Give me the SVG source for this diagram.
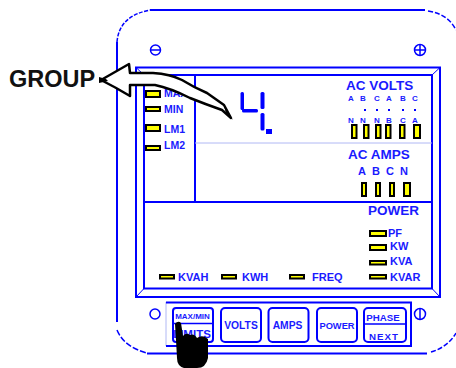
<svg xmlns="http://www.w3.org/2000/svg" width="456" height="368" viewBox="0 0 456 368">
<style>
.b{fill:none;stroke:#0000ff;stroke-width:2}
.t{fill:none;stroke:#0000ff;stroke-width:1.5}
.th{fill:none;stroke:#0000ff;stroke-width:1}
.l{fill:none;stroke:#b0b8f4;stroke-width:1}
.led{fill:#ffff00;stroke:#000;stroke-width:2}
text{font-family:"Liberation Sans",Arial,sans-serif;font-weight:bold;fill:#1a1aff}
</style>
<rect width="456" height="368" fill="#fff"/>
<g id="case">
<path class="b" d="M117 42V322"/>
<path class="b" d="M150 10H425"/>
<path class="b" d="M147 353.500H427"/>
<path class="t" stroke-dasharray="4 1.500" d="M117 42Q119 16 150 10"/>
<path class="t" stroke-dasharray="5 2" d="M428 11Q448 14 456 30"/>
<path class="t" stroke-dasharray="6 2" d="M117 330Q124 347 147 353"/>
<path class="t" stroke-dasharray="5 2" d="M431 352Q448 347 456 333"/>
</g>
<g id="screws">
<circle class="t" cx="155.500" cy="50" r="5"/><path class="t" d="M150 50H161"/>
<circle class="t" cx="420" cy="50" r="5.500"/><path class="t" d="M414 50H426M420 44V56"/>
<circle class="t" cx="155" cy="314" r="5"/>
<circle class="t" cx="420" cy="314" r="5.500"/><path class="t" d="M420 308V320"/>
</g>
<g id="panel">
<rect class="b" x="136" y="67.500" width="304" height="229.500"/>
<rect class="b" x="144" y="75" width="288" height="213.500"/>
<path class="th" d="M136 67.500L144 75M440 67.500L432 75M136 297L144 288.500M440 297L432 288.500"/>
<path class="b" d="M144 202H432M195 75V202"/>
<path class="l" d="M195 143H432"/>
</g>
<g id="digit" fill="#0000ff" stroke="none">
<rect x="240.500" y="92" width="3.500" height="18" rx="1.500"/>
<rect x="242" y="109" width="16" height="3.500" rx="1.500"/>
<rect x="260.500" y="92" width="4" height="17" rx="1.500"/>
<rect x="260.500" y="113" width="4" height="17.500" rx="1.500"/>
<rect x="266" y="129" width="6" height="5"/>
</g>
<g id="indicators">
<rect class="led" x="146" y="91" width="14" height="6"/>
<rect class="led" x="146" y="107" width="14" height="4"/>
<rect class="led" x="146" y="125" width="14" height="6"/>
<rect class="led" x="146" y="146" width="14" height="4"/>
<rect class="led" x="352" y="125" width="4.500" height="13"/>
<rect class="led" x="364" y="125" width="4.500" height="13"/>
<rect class="led" x="376" y="125" width="4.500" height="13"/>
<rect class="led" x="386" y="125" width="4.500" height="13"/>
<rect class="led" x="400" y="125" width="4.500" height="13"/>
<rect class="led" x="414" y="125" width="6" height="13"/>
<rect class="led" x="362" y="183" width="4" height="13"/>
<rect class="led" x="376" y="183" width="4" height="13"/>
<rect class="led" x="390" y="183" width="4" height="13"/>
<rect class="led" x="404" y="183" width="6" height="13"/>
<rect class="led" x="370" y="231" width="16" height="5"/>
<rect class="led" x="370" y="245" width="16" height="5"/>
<rect class="led" x="370" y="261" width="16" height="3.500"/>
<rect class="led" x="370" y="275" width="16" height="3.500"/>
<rect class="led" x="160" y="275" width="14" height="3.500"/>
<rect class="led" x="222" y="275" width="14" height="3.500"/>
<rect class="led" x="290" y="275" width="14" height="3.500"/>
</g>
<g id="labels">
<text x="164" y="97" font-size="10.500">MAX</text>
<text x="164" y="113" font-size="10.500">MIN</text>
<text x="164" y="133" font-size="10.500">LM1</text>
<text x="164" y="149" font-size="10.500">LM2</text>
<text x="346" y="89.500" font-size="13.500">AC VOLTS</text>
<g font-size="8" text-anchor="middle">
<text x="351" y="101">A</text><text x="363" y="101">B</text><text x="377" y="101">C</text><text x="389" y="101">A</text><text x="403" y="101">B</text><text x="415" y="101">C</text>
<text x="351" y="123">N</text><text x="363" y="123">N</text><text x="377" y="123">N</text><text x="389" y="123">B</text><text x="403" y="123">C</text><text x="415" y="123">A</text>
</g>
<path fill="#0000ff" d="M364 109h2v2h-2zM376 109h2v2h-2zM388 109h2v2h-2zM402 109h2v2h-2zM414 109h2v2h-2z"/>
<text x="348" y="159" font-size="13.500">AC AMPS</text>
<g font-size="11" text-anchor="middle">
<text x="362" y="175">A</text><text x="376" y="175">B</text><text x="390" y="175">C</text><text x="404" y="175">N</text>
</g>
<text x="368" y="215" font-size="13.500">POWER</text>
<text x="388" y="237" font-size="11">PF</text>
<text x="390" y="249.500" font-size="11">KW</text>
<text x="390" y="265" font-size="11">KVA</text>
<text x="390" y="281" font-size="11">KVAR</text>
<text x="178" y="281" font-size="11">KVAH</text>
<text x="242" y="281" font-size="11">KWH</text>
<text x="312" y="281" font-size="11">FREQ</text>
</g>
<g id="keypad">
<path class="l" d="M166 302V346"/>
<path class="b" d="M166 302.500H411V346H166"/>
</g>
<g id="btn-limits">
<rect class="b" x="173" y="308" width="40" height="34" rx="3"/>
<path class="t" d="M173 323.500H213"/>
<text x="192.500" y="319" font-size="8" text-anchor="middle">MAX/MIN</text>
<text x="192" y="337.500" font-size="11.500" text-anchor="middle">LIMITS</text>
</g>
<g id="btn-volts">
<rect class="b" x="221" y="308" width="40" height="34" rx="4"/>
<text x="241" y="329" font-size="10.300" text-anchor="middle">VOLTS</text>
</g>
<g id="btn-amps">
<rect class="b" x="268.500" y="308" width="40" height="34" rx="4"/>
<text x="287.500" y="329" font-size="10.300" text-anchor="middle">AMPS</text>
</g>
<g id="btn-power">
<rect class="b" x="317" y="308" width="40" height="34" rx="4"/>
<text x="337" y="329" font-size="9.300" text-anchor="middle">POWER</text>
</g>
<g id="btn-phase">
<rect class="b" x="364" y="308" width="42" height="34" rx="4"/>
<path class="t" d="M364 324H406"/>
<text x="383" y="321" font-size="9.700" text-anchor="middle">PHASE</text>
<text x="384" y="340" font-size="9.700" letter-spacing="1" text-anchor="middle">NEXT</text>
</g>
<g id="hand">
<path fill="#000" d="M175 324Q178 320 181 323L183 336Q186 332 190 335Q194 333 197 338Q201 335 205 337L208 339L208 358Q206 368 197 368H184Q177 366 177 358L176 340Z"/>
</g>
<g id="group-callout">
<text x="9" y="87" font-size="23.500" style="fill:#111">GROUP</text>
<path fill="#fff" stroke="#000" stroke-width="2.500" stroke-linejoin="round" d="M101 80L129 64L130 73H153Q170 74 182 80Q195 88 207 93L224 105L231 118L222 110Q205 104 190 98Q170 88 155 85H130L130 96Q115 87 101 80Z"/>
<path fill="#000" d="M99 77L106 79L108 81L99 83ZM224 106L233 120L226 113Z"/>
</g>
</svg>
